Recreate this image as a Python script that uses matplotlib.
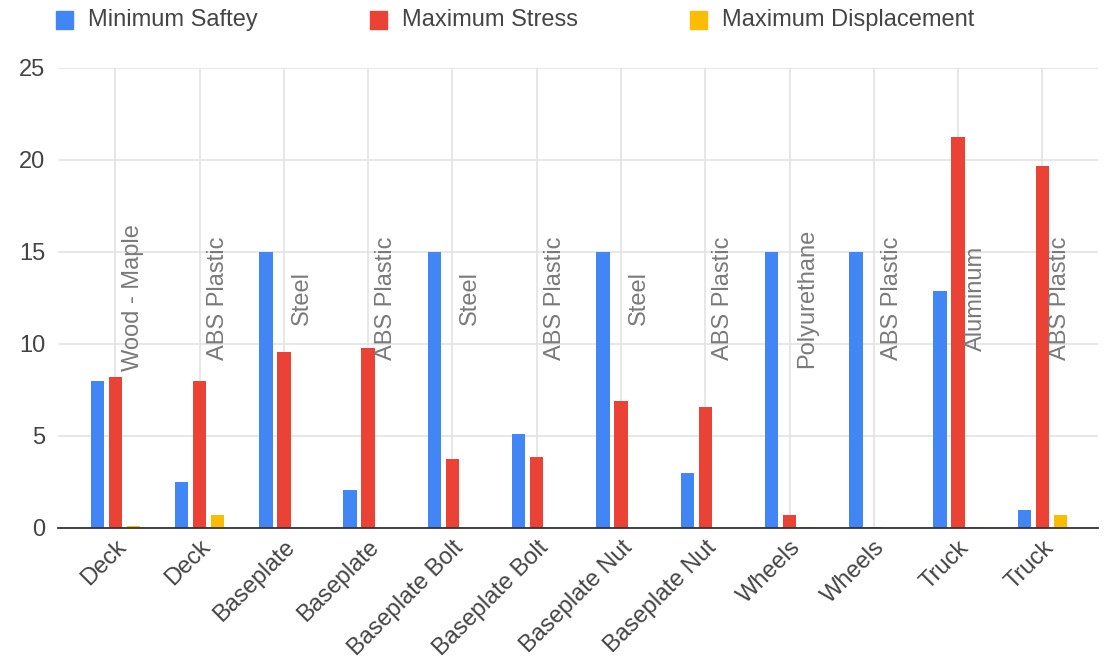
import matplotlib
matplotlib.use("Agg")
import matplotlib.pyplot as plt
from matplotlib.patches import Rectangle
import numpy as np

plt.rcParams['font.family'] = ['Liberation Sans', 'DejaVu Sans']

components = ["Deck", "Deck", "Baseplate", "Baseplate", "Baseplate Bolt", "Baseplate Bolt",
              "Baseplate Nut", "Baseplate Nut", "Wheels", "Wheels", "Truck", "Truck"]
materials = ["Wood - Maple", "ABS Plastic", "Steel", "ABS Plastic", "Steel", "ABS Plastic",
             "Steel", "ABS Plastic", "Polyurethane", "ABS Plastic", "Aluminum", "ABS Plastic"]
min_safety = [8.0, 2.5, 15.0, 2.05, 15.0, 5.1, 15.0, 3.0, 15.0, 15.0, 12.9, 1.0]
max_stress = [8.2, 8.0, 9.55, 9.8, 3.75, 3.85, 6.9, 6.55, 0.7, 0.05, 21.25, 19.7]
max_disp = [0.1, 0.7, 0.0, 0.0, 0.0, 0.0, 0.0, 0.0, 0.05, 0.0, 0.05, 0.7]

series = ["Minimum Saftey", "Maximum Stress", "Maximum Displacement"]
colors = ["#4285F4", "#EA4335", "#FBBC04"]

W, H = 1109, 663
fig = plt.figure(figsize=(W / 100, H / 100), dpi=100)
ax = fig.add_axes([58 / W, 1 - 528 / H, (1098 - 58) / W, (528 - 68) / H])

x = np.arange(len(components))
bw = 0.16
off = 0.213
for k, vals in enumerate([min_safety, max_stress, max_disp]):
    ax.bar(x + (k - 1) * off, vals, width=bw, color=colors[k], zorder=3)

for xi, m in zip(x, materials):
    ax.text(xi + off, 12.5, m, rotation=90, ha="center", va="center",
            fontsize=17, color="#7a7a7a", zorder=4)

ax.set_xlim(-0.68, 11.66)
ax.set_ylim(0, 25)
ax.set_yticks([0, 5, 10, 15, 20, 25])
ax.set_xticks(x)
ax.set_xticklabels(components, rotation=45, ha="right", rotation_mode="anchor",
                   fontsize=17, color="#444444")
ax.tick_params(axis="y", labelsize=17, labelcolor="#444444", length=0, pad=9)
ax.tick_params(axis="x", length=0, pad=6)
ax.grid(True, axis="both", color="#e3e3e3", linewidth=1.2, zorder=0)
for s in ["top", "right", "left"]:
    ax.spines[s].set_visible(False)
ax.spines["bottom"].set_color("#333333")
ax.spines["bottom"].set_linewidth(1.3)
ax.spines["bottom"].set_zorder(5)

# legend row across the top
legend_x = [56, 370, 690]
for lx, name, c in zip(legend_x, series, colors):
    fig.patches.append(Rectangle((lx / W, 1 - 29 / H), 17 / W, 18 / H,
                                 transform=fig.transFigure, color=c))
    fig.text((lx + 32) / W, 1 - 20 / H, name, fontsize=17, color="#444444",
             ha="left", va="center")

fig.savefig("out.png", dpi=100, facecolor="white")
